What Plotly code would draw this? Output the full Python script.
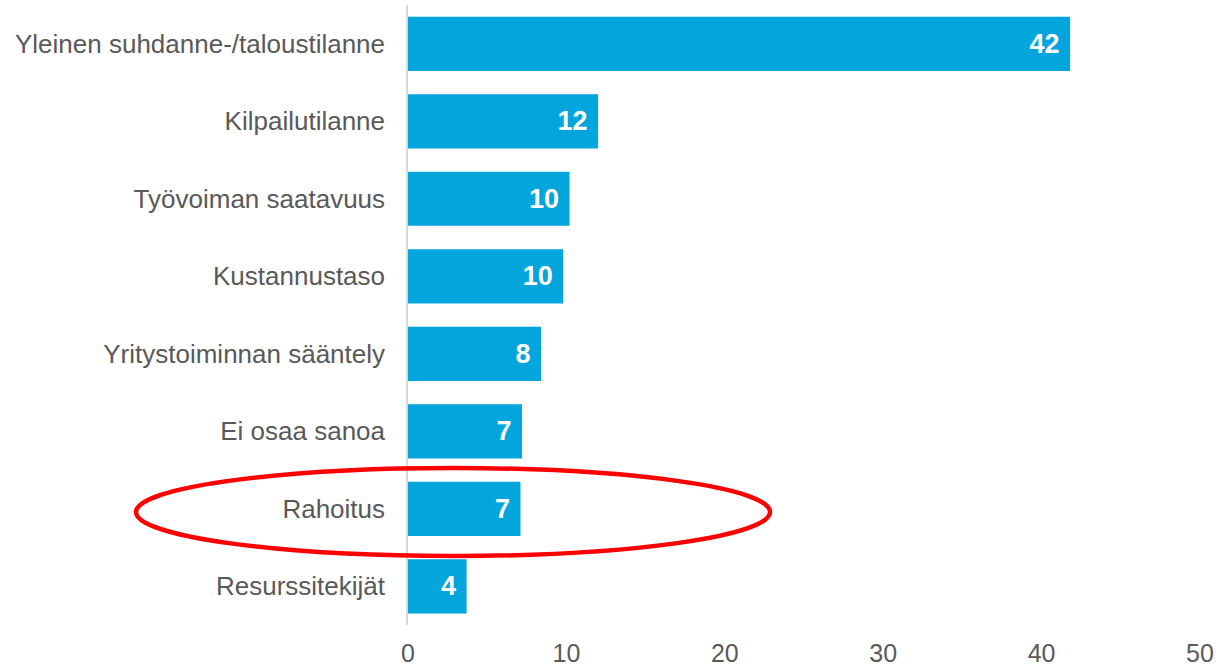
import plotly.graph_objects as go

categories = [
    "Yleinen suhdanne-/taloustilanne",
    "Kilpailutilanne",
    "Työvoiman saatavuus",
    "Kustannustaso",
    "Yritystoiminnan sääntely",
    "Ei osaa sanoa",
    "Rahoitus",
    "Resurssitekijät",
]
values = [41.8, 12.0, 10.2, 9.8, 8.4, 7.2, 7.1, 3.7]
value_labels = ["42", "12", "10", "10", "8", "7", "7", "4"]
x_ticks = [0, 10, 20, 30, 40, 50]

W, H = 1232, 667
ML, MR, MT, MB = 408, 32, 5, 42
PW, PH = W - ML - MR, H - MT - MB

def px_x(p):
    return (p - ML) / PW

def px_y(p):
    return (H - MB - p) / PH

fig = go.Figure(go.Bar(
    x=values,
    y=categories,
    orientation="h",
    width=0.7,
    marker=dict(color="#02A5DC", line=dict(width=0)),
    text=[t + "\u00a0" for t in value_labels],
    textposition="inside",
    insidetextanchor="end",
    textangle=0,
    textfont=dict(family="Liberation Sans", size=27, color="white", weight="bold"),
    hoverinfo="skip",
))

fig.add_shape(
    type="circle",
    xref="paper", yref="paper",
    x0=px_x(136), x1=px_x(770),
    y0=px_y(556), y1=px_y(468),
    line=dict(color="#FF0000", width=4.5),
    fillcolor="rgba(0,0,0,0)",
    layer="above",
)

fig.update_layout(
    width=W, height=H,
    margin=dict(l=ML, r=MR, t=MT, b=MB, pad=0, autoexpand=False),
    paper_bgcolor="white",
    plot_bgcolor="white",
    showlegend=False,
    font=dict(family="Liberation Sans", color="#595959"),
    xaxis=dict(
        range=[0, 50],
        tickvals=x_ticks,
        ticktext=[str(v) for v in x_ticks],
        showgrid=False,
        zeroline=False,
        showline=False,
        ticks="outside",
        ticklen=6,
        tickcolor="rgba(0,0,0,0)",
        tickfont=dict(size=25, color="#595959"),
        automargin=False,
        fixedrange=True,
    ),
    yaxis=dict(
        autorange="reversed",
        showgrid=False,
        zeroline=False,
        showline=True,
        linecolor="#D9D9D9",
        linewidth=1.5,
        ticks="outside",
        ticklen=16,
        tickcolor="rgba(0,0,0,0)",
        tickfont=dict(size=26, color="#595959"),
        automargin=False,
        fixedrange=True,
    ),
)

fig.write_html("out.html")
